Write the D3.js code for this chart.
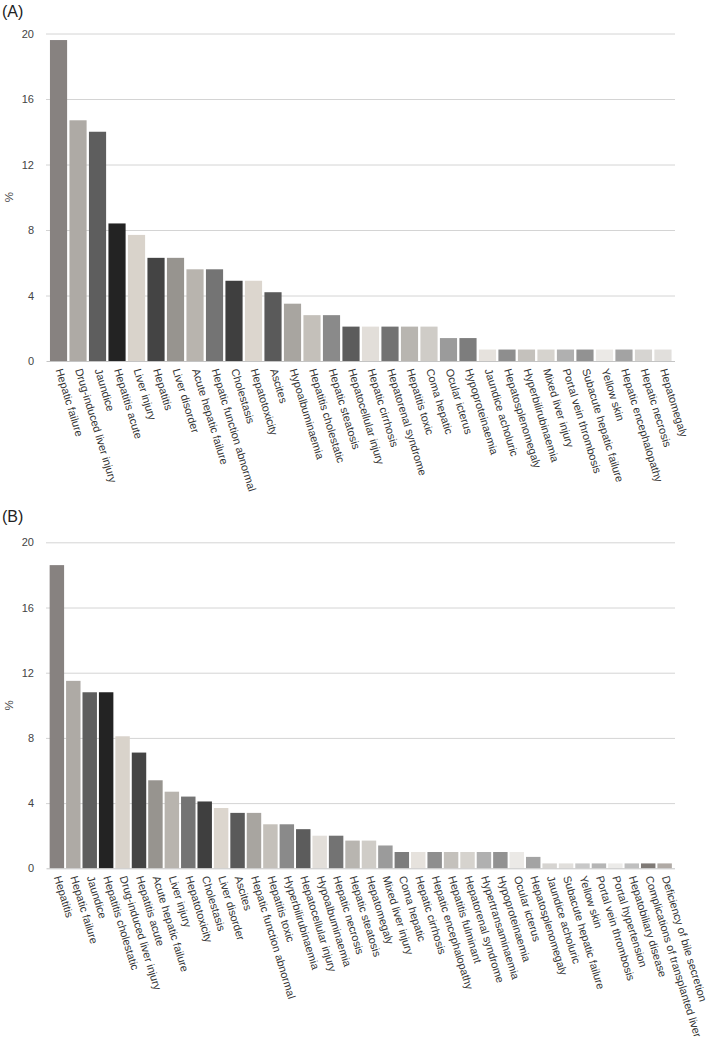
<!DOCTYPE html>
<html><head><meta charset="utf-8">
<script src="https://cdn.jsdelivr.net/npm/d3@7"></script>
<style>
body{margin:0;background:#fff;}
text{font-family:"Liberation Sans",Arial,Helvetica,sans-serif;}
</style></head>
<body><svg id="c" width="709" height="1043"></svg>
<script>
const categoriesA = ["Hepatic failure","Drug-induced liver injury","Jaundice","Hepatitis acute","Liver injury","Hepatitis","Liver disorder","Acute hepatic failure","Hepatic function abnormal","Cholestasis","Hepatotoxicity","Ascites","Hypoalbuminaemia","Hepatitis cholestatic","Hepatic steatosis","Hepatocellular injury","Hepatic cirrhosis","Hepatorenal syndrome","Hepatitis toxic","Coma hepatic","Ocular icterus","Hypoproteinaemia","Jaundice acholuric","Hepatosplenomegaly","Hyperbilirubinaemia","Mixed liver injury","Portal vein thrombosis","Subacute hepatic failure","Yellow skin","Hepatic encephalopathy","Hepatic necrosis","Hepatomegaly"];
const valuesA = [19.6,14.7,14.0,8.4,7.7,6.3,6.3,5.6,5.6,4.9,4.9,4.2,3.5,2.8,2.8,2.1,2.1,2.1,2.1,2.1,1.4,1.4,0.7,0.7,0.7,0.7,0.7,0.7,0.7,0.7,0.7,0.7];
const categoriesB = ["Hepatitis","Hepatic failure","Jaundice","Hepatitis cholestatic","Drug-induced liver injury","Hepatitis acute","Acute hepatic failure","Liver injury","Hepatotoxicity","Cholestasis","Liver disorder","Ascites","Hepatic function abnormal","Hepatitis toxic","Hyperbilirubinaemia","Hepatocellular injury","Hypoalbuminaemia","Hepatic necrosis","Hepatic steatosis","Hepatomegaly","Mixed liver injury","Coma hepatic","Hepatic cirrhosis","Hepatic encephalopathy","Hepatitis fulminant","Hepatorenal syndrome","Hypertransaminaemia","Hypoproteinaemia","Ocular icterus","Hepatosplenomegaly","Jaundice acholuric","Subacute hepatic failure","Yellow skin","Portal vein thrombosis","Portal hypertension","Hepatobiliary disease","Complications of transplanted liver","Deficiency of bile secretion"];
const valuesB = [18.6,11.5,10.8,10.8,8.1,7.1,5.4,4.7,4.4,4.1,3.7,3.4,3.4,2.7,2.7,2.4,2.0,2.0,1.7,1.7,1.4,1.0,1.0,1.0,1.0,1.0,1.0,1.0,1.0,0.7,0.3,0.3,0.3,0.3,0.3,0.3,0.3,0.3];
const yTicks = [0,4,8,12,16,20];
const barColors = ["#878280","#aeaaa5","#5e5e5e","#232323","#d9d3cb","#444444","#97948f","#b8b4ae","#747474","#3f3f3f","#dcd6ce","#5a5a5a","#a8a5a0","#c4c0ba","#8a8a8a","#5c5c5c","#e2ded9","#737373","#b8b5b0","#cfccc7","#9b9b9b","#7d7d7d","#e6e2dd","#8e8e8e","#c4c1bc","#d6d3ce","#b0b0b0","#929292","#ebe9e6","#a3a3a3","#d6d4d1","#e1dfdc","#c8c8c8","#b5b5b5","#ecebe9","#bfbfbf","#7f7a76","#b0aaa5"];

const svg = d3.select("#c");

function panel(title, cats, vals, y0, y20, titleY) {
  const g = svg.append("g");
  const x = d3.scaleBand().domain(cats).range([48, 673.5]).paddingInner(0.12).paddingOuter(0.1);
  const y = d3.scaleLinear().domain([0, 20]).range([y0, y20]);
  g.append("text").attr("x", 2).attr("y", titleY).attr("font-size", 16).attr("fill", "#222").text(title);
  g.selectAll(".grid").data(yTicks.filter(t => t > 0)).join("line")
    .attr("x1", 46.5).attr("x2", 675).attr("y1", d => y(d) + 0.5).attr("y2", d => y(d) + 0.5)
    .attr("stroke", "#a8a8a8").attr("stroke-width", 1).attr("stroke-dasharray", "1,1");
  const ya = d3.axisLeft(y).tickValues(yTicks).tickSize(0).tickPadding(0);
  const yg = g.append("g").attr("transform", "translate(34,0)").call(ya);
  yg.select(".domain").remove();
  yg.selectAll("text").attr("font-size", 11).attr("fill", "#444").attr("font-family", "Liberation Sans, Arial, sans-serif");
  g.append("text").attr("transform", `translate(12.5,${(y0 + y20) / 2}) rotate(-90)`)
    .attr("text-anchor", "middle").attr("font-size", 11.5).attr("fill", "#444").text("%");
  g.selectAll(".bar").data(cats).join("rect")
    .attr("x", d => x(d)).attr("width", x.bandwidth())
    .attr("y", (d, i) => y(vals[i])).attr("height", (d, i) => y(0) - y(vals[i]))
    .attr("fill", (d, i) => barColors[i]);
  g.append("line").attr("x1", 46.5).attr("x2", 675).attr("y1", y0 + 0.5).attr("y2", y0 + 0.5)
    .attr("stroke", "#c4c4c4").attr("stroke-width", 1);
  const xa = d3.axisBottom(x).tickSize(0).tickPadding(0);
  const xg = g.append("g").attr("transform", `translate(0,${y0})`).call(xa);
  xg.select(".domain").remove();
  xg.selectAll("text")
    .attr("font-size", 11).attr("fill", "#333").attr("font-family", "Liberation Sans, Arial, sans-serif")
    .attr("text-anchor", "start").attr("dy", null).attr("y", 0).attr("x", 0)
    .attr("transform", "translate(-3,9) rotate(73)");
}

panel("(A)", categoriesA, valuesA, 361, 33.5, 17);
panel("(B)", categoriesB, valuesB, 868.3, 542.3, 522);
</script></body></html>
